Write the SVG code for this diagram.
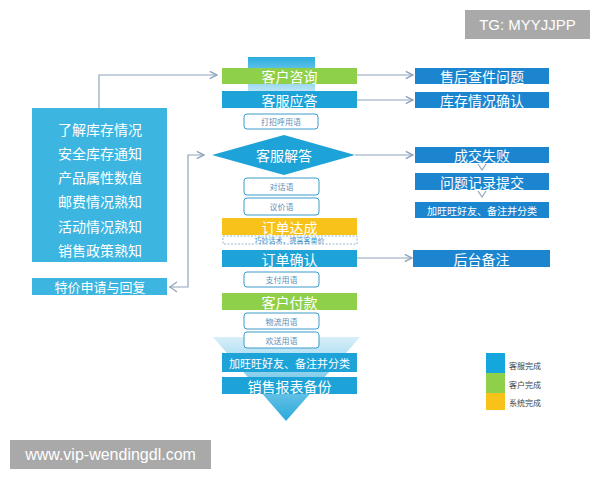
<svg xmlns="http://www.w3.org/2000/svg" width="600" height="480" viewBox="0 0 600 480">
<defs>
<style>
text{font-family:"Noto Sans CJK SC","Liberation Sans",sans-serif;text-anchor:middle;dominant-baseline:central}
.w{fill:#fff}
.t14{font-size:14px}
.t13{font-size:13px}
.blue{fill:#1ea3d8}
.green{fill:#8fd04a}
.yellow{fill:#f8c21a}
.dark{fill:#1b85d0}
.left{fill:#3cb5e0}
.tag{fill:#fff;stroke:#3a9ccc;stroke-width:1}
.tagt{fill:#5a8fb8;font-size:8px}
.ln{fill:none;stroke:#8fa4bd;stroke-width:1.2}
.wm{fill:#a9a9a9}
.wmt{fill:#fff;font-family:"Liberation Sans",Arial,sans-serif}
</style>
<marker id="ar" viewBox="0 0 10 10" refX="9" refY="5" markerWidth="9" markerHeight="9" orient="auto" markerUnits="userSpaceOnUse">
<path d="M1,1 L9,5 L1,9" fill="none" stroke="#8fa4bd" stroke-width="1.6"/>
</marker>
<linearGradient id="tri" x1="0" y1="0" x2="0" y2="1">
<stop offset="0" stop-color="#d8eff9"/>
<stop offset="1" stop-color="#2aa9dc"/>
</linearGradient>
<linearGradient id="shaft" x1="0" y1="0" x2="0" y2="1">
<stop offset="0" stop-color="#2badde"/>
<stop offset="1" stop-color="#bfe6f6"/>
</linearGradient>
</defs>
<rect width="600" height="480" fill="#fff"/>

<g id="backdrop">
<rect x="248" y="57" width="67" height="35" fill="url(#shaft)"/>
<polygon points="213,337 360,337 286,421" fill="url(#tri)"/>
</g>

<g id="connectors">
<polyline class="ln" points="99,108 99,75 217,75" marker-end="url(#ar)"/>
<polyline class="ln" points="169,287 188,287 188,155 204,155" marker-end="url(#ar)"/>
<path class="ln" d="M177,282 L170,287 L177,292"/>
<line class="ln" x1="357" y1="75" x2="413" y2="75" marker-end="url(#ar)"/>
<line class="ln" x1="357" y1="100" x2="413" y2="100" marker-end="url(#ar)"/>
<line class="ln" x1="355" y1="155" x2="413" y2="155" marker-end="url(#ar)"/>
<line class="ln" x1="357" y1="258" x2="412" y2="258" marker-end="url(#ar)"/>
<path class="ln" d="M478,164 L482,170 L486,164"/>
<path class="ln" d="M478,191 L482,197 L486,191"/>
</g>

<g id="left-info">
<rect class="left" x="32" y="108" width="135" height="154"/>
<text class="w t14" x="100" y="129">了解库存情况</text>
<text class="w t14" x="100" y="153">安全库存通知</text>
<text class="w t14" x="100" y="177">产品属性数值</text>
<text class="w t14" x="100" y="201">邮费情况熟知</text>
<text class="w t14" x="100" y="226">活动情况熟知</text>
<text class="w t14" x="100" y="250">销售政策熟知</text>
</g>
<g id="left-special">
<rect class="left" x="32" y="278" width="135" height="17"/>
<text class="w t13" x="100" y="286.5">特价申请与回复</text>
</g>

<g id="n-consult"><rect class="green" x="222" y="68" width="135" height="16"/><text class="w t14" x="289.5" y="76">客户咨询</text></g>
<g id="n-reply"><rect class="blue" x="222" y="91" width="135" height="17"/><text class="w t14" x="289.5" y="99.5">客服应答</text></g>
<g id="n-greet"><rect class="tag" x="244" y="114" width="74" height="15" rx="3"/><text class="tagt" x="281" y="121.5">打招呼用语</text></g>
<g id="n-answer"><polygon class="blue" points="212,155 284,135 355,155 284,175"/><text class="w t14" x="284" y="155">客服解答</text></g>
<g id="n-talk"><rect class="tag" x="244" y="178" width="75" height="17" rx="3"/><text class="tagt" x="281.5" y="186.5">对话语</text></g>
<g id="n-bargain"><rect class="tag" x="244" y="198" width="75" height="17" rx="3"/><text class="tagt" x="281.5" y="206.5">议价语</text></g>
<g id="n-deal"><rect class="yellow" x="222" y="218" width="135" height="17"/><text class="w t14" x="289.5" y="226.5">订单达成</text></g>
<g id="n-upsell"><rect x="223" y="236" width="134" height="8" fill="#fff" stroke="#7aa6c8" stroke-width="0.8" stroke-dasharray="2,1.5"/><text x="289.5" y="240" style="font-size:7px;fill:#3a90c8">巧妙话术，提高客单价</text></g>
<g id="n-confirm"><rect class="blue" x="222" y="250" width="135" height="17"/><text class="w t14" x="289.5" y="258.5">订单确认</text></g>
<g id="n-pay-words"><rect class="tag" x="244" y="272" width="75" height="15" rx="3"/><text class="tagt" x="281.5" y="279.5">支付用语</text></g>
<g id="n-pay"><rect class="green" x="222" y="293" width="135" height="17"/><text class="w t14" x="289.5" y="301.5">客户付款</text></g>
<g id="n-logistics"><rect class="tag" x="244" y="313" width="75" height="16" rx="3"/><text class="tagt" x="281.5" y="321">物流用语</text></g>
<g id="n-farewell"><rect class="tag" x="244" y="332" width="75" height="16" rx="3"/><text class="tagt" x="281.5" y="340">欢送用语</text></g>
<g id="n-add"><rect class="blue" x="222" y="353" width="135" height="19"/><text class="w" x="289.5" y="362.5" style="font-size:11px">加旺旺好友、备注并分类</text></g>
<g id="n-report"><rect class="blue" x="222" y="377" width="135" height="17"/><text class="w t14" x="289.5" y="385.5">销售报表备份</text></g>

<g id="r-aftersale"><rect class="dark" x="415" y="68" width="134" height="16"/><text class="w t14" x="482" y="76">售后查件问题</text></g>
<g id="r-stock"><rect class="dark" x="415" y="92" width="134" height="16"/><text class="w t14" x="482" y="100">库存情况确认</text></g>
<g id="r-fail"><rect class="dark" x="415" y="147" width="134" height="16"/><text class="w t14" x="482" y="155">成交失败</text></g>
<g id="r-record"><rect class="dark" x="415" y="173" width="134" height="17"/><text class="w t14" x="482" y="181.5">问题记录提交</text></g>
<g id="r-add"><rect class="dark" x="415" y="202" width="134" height="16"/><text class="w" x="482" y="210" style="font-size:10px">加旺旺好友、备注并分类</text></g>
<g id="r-backend"><rect class="dark" x="413" y="250" width="137" height="17"/><text class="w t14" x="481.5" y="258.5">后台备注</text></g>

<g id="legend">
<rect x="486" y="353" width="19" height="20" fill="#14a6dc"/>
<rect x="486" y="373" width="19" height="20" fill="#8fd04a"/>
<rect x="486" y="393" width="19" height="17" fill="#f8c21a"/>
<text x="509" y="365" style="font-size:8px;fill:#444;text-anchor:start">客服完成</text>
<text x="509" y="384" style="font-size:8px;fill:#444;text-anchor:start">客户完成</text>
<text x="509" y="402" style="font-size:8px;fill:#444;text-anchor:start">系统完成</text>
</g>

<g id="watermarks">
<rect class="wm" x="465" y="10" width="125" height="29"/>
<text class="wmt" x="527.5" y="24.5" style="font-size:15px">TG: MYYJJPP</text>
<rect class="wm" x="10" y="440" width="201" height="29"/>
<text class="wmt" x="110.5" y="454.5" style="font-size:16px">www.vip-wendingdl.com</text>
</g>
</svg>
